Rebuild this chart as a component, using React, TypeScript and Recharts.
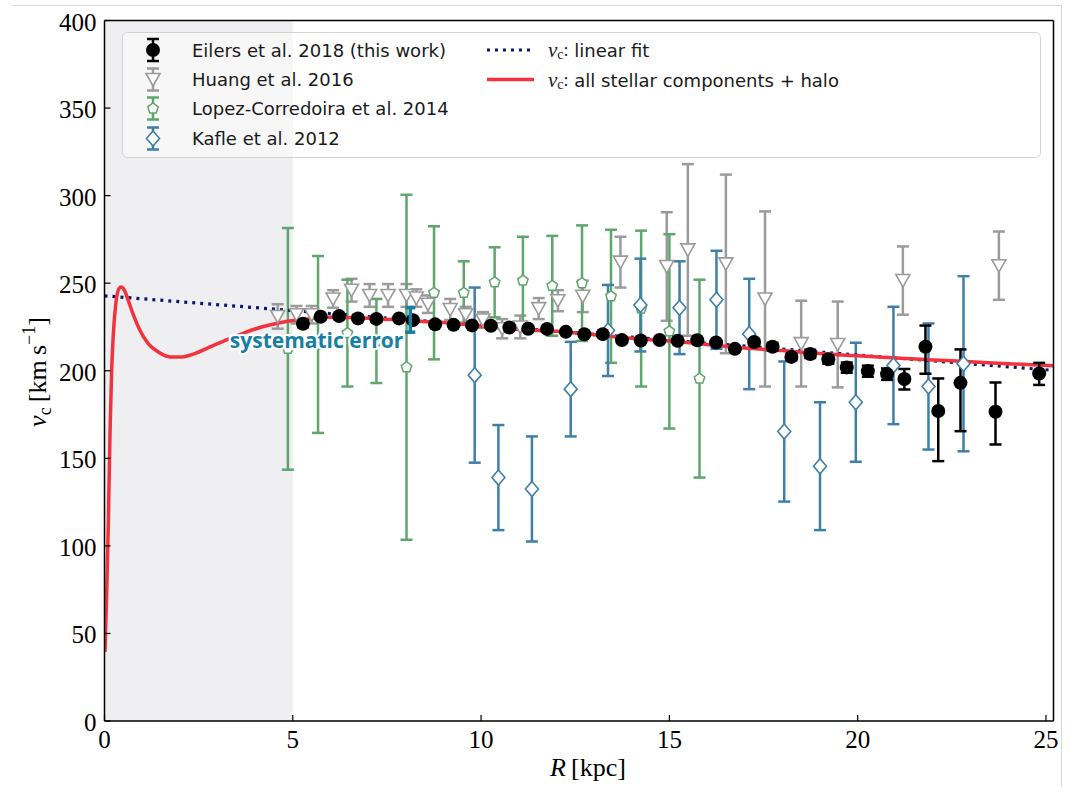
import React from 'react';
import {
  ComposedChart,
  Scatter,
  Line,
  XAxis,
  YAxis,
  ErrorBar,
  ReferenceArea,
  Legend,
} from 'recharts';

// Eilers et al. 2018: R [kpc], v_c [km/s], lower / upper errors
const eilersR = [5.27, 5.74, 6.23, 6.73, 7.22, 7.82, 8.19, 8.78, 9.27, 9.76, 10.26, 10.75, 11.25, 11.75, 12.25, 12.74, 13.23, 13.74, 14.24, 14.74, 15.22, 15.74, 16.24, 16.74, 17.25, 17.74, 18.24, 18.74, 19.22, 19.71, 20.27, 20.78, 21.24, 21.8, 22.14, 22.73, 23.66, 24.82];
const eilersV = [226.8, 230.8, 231.2, 229.9, 229.6, 229.9, 228.9, 226.5, 226.2, 225.9, 225.7, 224.7, 224.0, 223.9, 222.2, 220.8, 220.9, 217.5, 217.3, 217.6, 217.1, 217.4, 216.1, 212.5, 216.4, 213.7, 207.9, 209.6, 206.5, 201.9, 199.8, 198.1, 195.3, 213.7, 177.0, 193.1, 176.6, 198.4];
const eilersLo = [1.9, 1.4, 1.7, 1.4, 1.4, 0.9, 0.8, 1.1, 0.7, 0.4, 0.4, 0.4, 0.3, 0.4, 0.5, 0.5, 0.6, 0.6, 0.8, 0.7, 1.1, 0.8, 1.2, 1.4, 1.4, 2.2, 1.8, 2.3, 2.5, 3.0, 3.2, 3.3, 6.0, 15.4, 28.6, 27.6, 18.7, 6.5];
const eilersHi = [1.9, 1.4, 1.1, 1.4, 1.1, 0.9, 0.6, 0.9, 0.7, 0.5, 0.4, 0.4, 0.4, 0.3, 0.4, 0.4, 0.6, 0.7, 0.7, 0.7, 0.8, 1.0, 1.1, 1.3, 1.7, 2.2, 1.8, 2.4, 2.3, 2.8, 3.1, 3.2, 5.7, 12.1, 18.6, 19.1, 16.7, 6.1];

// Huang et al. 2016
const huangR = [4.6, 5.1, 5.5, 6.07, 6.56, 7.04, 7.53, 8.02, 8.28, 8.59, 9.18, 9.59, 10.05, 10.56, 11.04, 11.53, 12.04, 12.7, 13.7, 14.93, 15.49, 16.5, 17.54, 18.5, 19.47, 21.2, 23.75];
const huangV = [231, 232, 232, 241, 246, 243, 243, 243, 241.5, 238, 235, 232, 229, 224, 225, 235.5, 240, 242.5, 262, 259.5, 269, 261, 241, 215.5, 215, 251.5, 260];
const huangErr = [7, 5, 5, 5, 6.5, 6.5, 6.5, 6.5, 5, 5, 6, 4.5, 4.5, 5.5, 6.5, 6, 6, 9, 14.5, 31, 49, 51, 50, 24.5, 24.5, 19.5, 19.5];

// Lopez-Corredoira et al. 2014
const lopezR = [4.87, 5.67, 6.45, 7.22, 8.02, 8.75, 9.54, 10.36, 11.11, 11.89, 12.68, 13.45, 14.25, 15.0, 15.8];
const lopezV = [212.5, 215, 221.5, 217, 202, 244.5, 244.5, 250.5, 251.5, 248.5, 250, 242.5, 235.5, 222.5, 195.5];
const lopezErr = [69, 50.5, 30.5, 24, 98.5, 38, 18, 20, 25, 28.5, 33, 38, 44.5, 55.5, 56.5];

// Kafle et al. 2012
const kafleR = [9.83, 10.46, 11.35, 12.38, 13.37, 14.23, 15.27, 16.25, 17.12, 18.05, 19.0, 19.95, 20.95, 21.88, 22.81];
const kafleV = [197.5, 139, 132.5, 189.5, 223, 237.5, 236, 240.5, 221, 165.3, 145.5, 182, 203, 191, 204];
const kafleErr = [50, 30, 30, 27, 26, 26.5, 26.5, 28, 31.5, 40, 36.5, 34, 33.5, 36, 50];

// linear fit, end points
const fitR = [0, 25.2];
const fitV = [242.8, 200.2];

// mass model: all stellar components + halo
const modelR = [0.013, 0.058, 0.1, 0.146, 0.19, 0.235, 0.3, 0.385, 0.44, 0.53, 0.63, 0.77, 0.94, 1.16, 1.43, 1.74, 2.05, 2.4, 2.85, 3.29, 3.73, 4.17, 4.62, 5.06, 5.41, 6, 7, 8, 9, 10, 11, 12, 13, 14, 15, 16, 17, 18, 19, 20, 21, 22, 23, 24, 25.2];
const modelV = [39.5, 72.9, 110.9, 164.2, 200.3, 221.2, 238.3, 246.9, 247.8, 245.9, 240.2, 231.7, 223.1, 215.5, 210.7, 207.9, 207.9, 209.8, 214, 218, 221.8, 225, 227.3, 228.8, 229.6, 230.5, 230, 228.7, 227.5, 225.5, 223.5, 222.5, 220.5, 218.5, 217, 215, 213, 211.5, 209.8, 208.5, 207.3, 206.2, 205.1, 204, 202.8];

// systematic error at the solar radius
const sysR = [8.12];
const sysV = [229];
const sysErr = [7];

const xTicks = [0, 5, 10, 15, 20, 25];
const yTicks = [0, 50, 100, 150, 200, 250, 300, 350, 400];

const NAMES = {
  eilers: 'Eilers et al. 2018 (this work)',
  huang: 'Huang et al. 2016',
  lopez: 'Lopez-Corredoira et al. 2014',
  kafle: 'Kafle et al. 2012',
  fit: 'linear fit',
  model: 'all stellar components + halo',
};
const LEGEND_ORDER = [NAMES.eilers, NAMES.huang, NAMES.lopez, NAMES.kafle, NAMES.fit, NAMES.model];

const BLACK = '#000000';
const GREY = '#9b9b9b';
const GREEN = '#5ea66c';
const BLUE = '#3f7fa8';
const RED = '#f2333d';
const NAVY = '#0c1a6c';
const SYS = '#177fa3';
const SERIF = "'Liberation Serif', 'DejaVu Serif', serif";
const SANS = "'DejaVu Sans', 'Liberation Sans', sans-serif";

// ErrorBar width is the half-length of each cap
const CAP = 6;

const eilersData = eilersR.map((x, i) => ({ x, y: eilersV[i], err: [eilersLo[i], eilersHi[i]] }));
const huangData = huangR.map((x, i) => ({ x, y: huangV[i], err: huangErr[i] }));
const lopezData = lopezR.map((x, i) => ({ x, y: lopezV[i], err: lopezErr[i] }));
const kafleData = kafleR.map((x, i) => ({ x, y: kafleV[i], err: kafleErr[i] }));
const fitData = fitR.map((x, i) => ({ x, y: fitV[i] }));
const modelData = modelR.map((x, i) => ({ x, y: modelV[i] }));
const sysData = sysR.map((x, i) => ({ x, y: sysV[i] }));
// upper and lower ends of the systematic-error bar
const sysEnds = sysR.flatMap((x, i) => [
  { x, y: sysV[i] + sysErr[i], end: 'top' },
  { x, y: sysV[i] - sysErr[i], end: 'bottom' },
]);

// marker glyphs
const Dot = ({ cx, cy }: any) => <circle cx={cx} cy={cy} r={7} fill={BLACK} />;

const TriDown = ({ cx, cy }: any) => (
  <path
    d={`M${cx - 7},${cy - 6}L${cx + 7},${cy - 6}L${cx},${cy + 6.5}Z`}
    fill="#fff"
    stroke={GREY}
    strokeWidth={1.6}
    strokeLinejoin="miter"
  />
);

const Pentagon = ({ cx, cy }: any) => {
  const r = 5.5;
  const pts = [0, 1, 2, 3, 4]
    .map((k) => {
      const a = ((-90 + k * 72) * Math.PI) / 180;
      return `${cx + r * Math.cos(a)},${cy + r * Math.sin(a)}`;
    })
    .join(' ');
  return <polygon points={pts} fill="#fff" stroke={GREEN} strokeWidth={1.5} />;
};

const Diamond = ({ cx, cy }: any) => (
  <path
    d={`M${cx},${cy - 7.5}L${cx + 6.5},${cy}L${cx},${cy + 7.5}L${cx - 6.5},${cy}Z`}
    fill="#fff"
    stroke={BLUE}
    strokeWidth={1.6}
  />
);

// the top end stores its pixel position; the bottom end then draws the whole bar
const sysTop = { cy: 0 };
const SysEnd = ({ cx, cy, payload }: any) => {
  if (payload.end === 'top') {
    sysTop.cy = cy;
    return <g />;
  }
  return (
    <g stroke={SYS} strokeWidth={3.5}>
      <line x1={cx} x2={cx} y1={sysTop.cy} y2={cy} />
      <line x1={cx - 5} x2={cx + 5} y1={sysTop.cy} y2={sysTop.cy} />
      <line x1={cx - 5} x2={cx + 5} y1={cy} y2={cy} />
    </g>
  );
};

const SysLabel = ({ cx, cy }: any) => (
  <text
    x={cx - 7}
    y={cy + 28}
    textAnchor="end"
    fontFamily="'Open Sans', sans-serif"
    fontWeight={700}
    fontSize={21}
    fill={SYS}
    stroke="#fff"
    strokeWidth={4}
    strokeLinejoin="round"
    paintOrder="stroke"
  >
    systematic error
  </text>
);

const XTick = ({ x, y, payload }: any) => (
  <text x={x} y={y + 17} textAnchor="middle" fontFamily={SERIF} fontSize={25} fill="#000">
    {payload.value}
  </text>
);

const YTick = ({ x, y, payload }: any) => (
  <text x={x} y={y + 10} textAnchor="end" fontFamily={SERIF} fontSize={25} fill="#000">
    {payload.value}
  </text>
);

const XTitle = () => (
  <text x={588} y={776} textAnchor="middle" fontFamily={SERIF} fontSize={26} fill="#000">
    <tspan fontStyle="italic">R</tspan>
    <tspan>{'\u2009[kpc]'}</tspan>
  </text>
);

const YTitle = () => (
  <text transform="translate(46,372) rotate(-90)" textAnchor="middle" fontFamily={SERIF} fontSize={26} fill="#000">
    <tspan fontStyle="italic">v</tspan>
    <tspan fontSize={18} dy={5}>c</tspan>
    <tspan dy={-5}>{'\u2009[km\u2009s'}</tspan>
    <tspan fontSize={18} dy={-11}>{'\u22121'}</tspan>
    <tspan dy={11}>]</tspan>
  </text>
);

// legend icon: marker with a small vertical error bar
const withBar = (color: string, marker: React.ReactNode, cx: number, cy: number) => (
  <g>
    <line x1={cx} x2={cx} y1={cy - 11} y2={cy + 11} stroke={color} strokeWidth={2.5} />
    <line x1={cx - 6} x2={cx + 6} y1={cy - 11} y2={cy - 11} stroke={color} strokeWidth={2.5} />
    <line x1={cx - 6} x2={cx + 6} y1={cy + 11} y2={cy + 11} stroke={color} strokeWidth={2.5} />
    {marker}
  </g>
);

const vc = (rest: string) => (
  <>
    <tspan fontFamily={SERIF} fontStyle="italic" fontSize={21}>v</tspan>
    <tspan fontFamily={SERIF} fontSize={14} dy={4}>c</tspan>
    <tspan fontFamily={SERIF} dy={-4}>:</tspan>
    <tspan>{' ' + rest}</tspan>
  </>
);

const LEG_W = 919;
const LEG_H = 126;
const ROWS = [18, 47.5, 76.5, 106.5];

const LegendBox = (props: any) => {
  const payload: any[] = props.payload || [];
  const items = LEGEND_ORDER.map((name) => payload.find((p) => p.value === name)).filter(Boolean);
  return (
    <svg width={LEG_W} height={LEG_H} style={{ display: 'block' }}>
      <rect x={0.5} y={0.5} width={LEG_W - 1} height={LEG_H - 1} rx={5} fill="rgba(255,255,255,0.55)" stroke="#d2d2d2" />
      {items.map((item: any, i: number) => {
        const col = i < 4 ? 0 : 1;
        const cy = ROWS[col === 0 ? i : i - 4];
        const mx = 31;
        const tx = col === 0 ? 70 : 426;
        let icon: React.ReactNode = null;
        let label: React.ReactNode = item.value;
        if (item.value === NAMES.eilers) icon = withBar(BLACK, <Dot cx={mx} cy={cy} />, mx, cy);
        if (item.value === NAMES.huang) icon = withBar(GREY, <TriDown cx={mx} cy={cy} />, mx, cy);
        if (item.value === NAMES.lopez) icon = withBar(GREEN, <Pentagon cx={mx} cy={cy} />, mx, cy);
        if (item.value === NAMES.kafle) icon = withBar(BLUE, <Diamond cx={mx} cy={cy} />, mx, cy);
        if (item.value === NAMES.fit) {
          icon = <line x1={365} x2={412} y1={cy} y2={cy} stroke={NAVY} strokeWidth={3.2} strokeDasharray="3 5" />;
          label = vc(item.value);
        }
        if (item.value === NAMES.model) {
          icon = <line x1={365} x2={412} y1={cy} y2={cy} stroke={RED} strokeWidth={3.5} />;
          label = vc(item.value);
        }
        return (
          <g key={item.value}>
            {icon}
            <text x={tx} y={cy} dominantBaseline="central" fontFamily={SANS} fontSize={18} fill="#1a1a1a">
              {label}
            </text>
          </g>
        );
      })}
    </svg>
  );
};

export default function App() {
  return (
    <div style={{ position: 'absolute', left: 0, top: 0, width: 1071, height: 787, background: '#fff', overflow: 'hidden' }}>
      <div
        style={{
          position: 'absolute',
          left: 13,
          top: 5,
          width: 1048,
          height: 790,
          borderTop: '1px solid #d8d8d8',
          borderRight: '1px solid #d8d8d8',
        }}
      />
      <ComposedChart width={1071} height={787} margin={{ top: 19.5, right: 16.5, bottom: 0, left: 0 }}>
        <ReferenceArea x1={0} x2={5} y1={0} y2={400} fill="#efeef0" fillOpacity={1} stroke="none" />
        <XAxis
          type="number"
          dataKey="x"
          domain={[0, 25.2]}
          allowDataOverflow
          ticks={xTicks}
          height={66}
          tickSize={-6}
          tickMargin={16}
          tick={<XTick />}
          axisLine={{ stroke: '#000', strokeWidth: 1.5 }}
          tickLine={{ stroke: '#000', strokeWidth: 1.2 }}
          label={<XTitle />}
        />
        <XAxis
          xAxisId="top"
          orientation="top"
          type="number"
          dataKey="x"
          domain={[0, 25.2]}
          allowDataOverflow
          ticks={xTicks}
          height={1}
          tickSize={-6}
          tick={false}
          axisLine={{ stroke: '#000', strokeWidth: 1.5 }}
          tickLine={{ stroke: '#000', strokeWidth: 1.2 }}
        />
        <YAxis
          type="number"
          dataKey="y"
          domain={[0, 400]}
          allowDataOverflow
          ticks={yTicks}
          width={104.5}
          tickSize={-6}
          tickMargin={14}
          tick={<YTick />}
          axisLine={{ stroke: '#000', strokeWidth: 1.5 }}
          tickLine={{ stroke: '#000', strokeWidth: 1.2 }}
          label={<YTitle />}
        />
        <YAxis
          yAxisId="right"
          orientation="right"
          type="number"
          dataKey="y"
          domain={[0, 400]}
          allowDataOverflow
          ticks={yTicks}
          width={1}
          tickSize={-6}
          tick={false}
          axisLine={{ stroke: '#000', strokeWidth: 1.5 }}
          tickLine={{ stroke: '#000', strokeWidth: 1.2 }}
        />

        <Scatter name={NAMES.huang} data={huangData} shape={<TriDown />} isAnimationActive={false}>
          <ErrorBar dataKey="err" direction="y" width={CAP} stroke={GREY} strokeWidth={2.5} isAnimationActive={false} />
        </Scatter>
        <Scatter name={NAMES.lopez} data={lopezData} shape={<Pentagon />} isAnimationActive={false}>
          <ErrorBar dataKey="err" direction="y" width={CAP} stroke={GREEN} strokeWidth={2.5} isAnimationActive={false} />
        </Scatter>
        <Scatter name={NAMES.kafle} data={kafleData} shape={<Diamond />} isAnimationActive={false}>
          <ErrorBar dataKey="err" direction="y" width={CAP} stroke={BLUE} strokeWidth={2.5} isAnimationActive={false} />
        </Scatter>
        <Scatter name="systematic error label" data={sysData} shape={<SysLabel />} legendType="none" isAnimationActive={false} />
        <Line
          name={NAMES.fit}
          data={fitData}
          dataKey="y"
          type="linear"
          stroke={NAVY}
          strokeWidth={3.2}
          strokeDasharray="3 5"
          dot={false}
          activeDot={false}
          isAnimationActive={false}
        />
        <Line
          name={NAMES.model}
          data={modelData}
          dataKey="y"
          type="monotone"
          stroke={RED}
          strokeWidth={3.5}
          dot={false}
          activeDot={false}
          isAnimationActive={false}
        />
        <Scatter name={NAMES.eilers} data={eilersData} shape={<Dot />} isAnimationActive={false}>
          <ErrorBar dataKey="err" direction="y" width={CAP} stroke={BLACK} strokeWidth={2.5} isAnimationActive={false} />
        </Scatter>
        <Scatter name="systematic error" data={sysEnds} shape={<SysEnd />} legendType="none" isAnimationActive={false} />

        <Legend
          layout="vertical"
          align="center"
          verticalAlign="middle"
          content={<LegendBox />}
          wrapperStyle={{ left: 122, top: 32, width: LEG_W, height: LEG_H }}
        />
      </ComposedChart>
    </div>
  );
}
